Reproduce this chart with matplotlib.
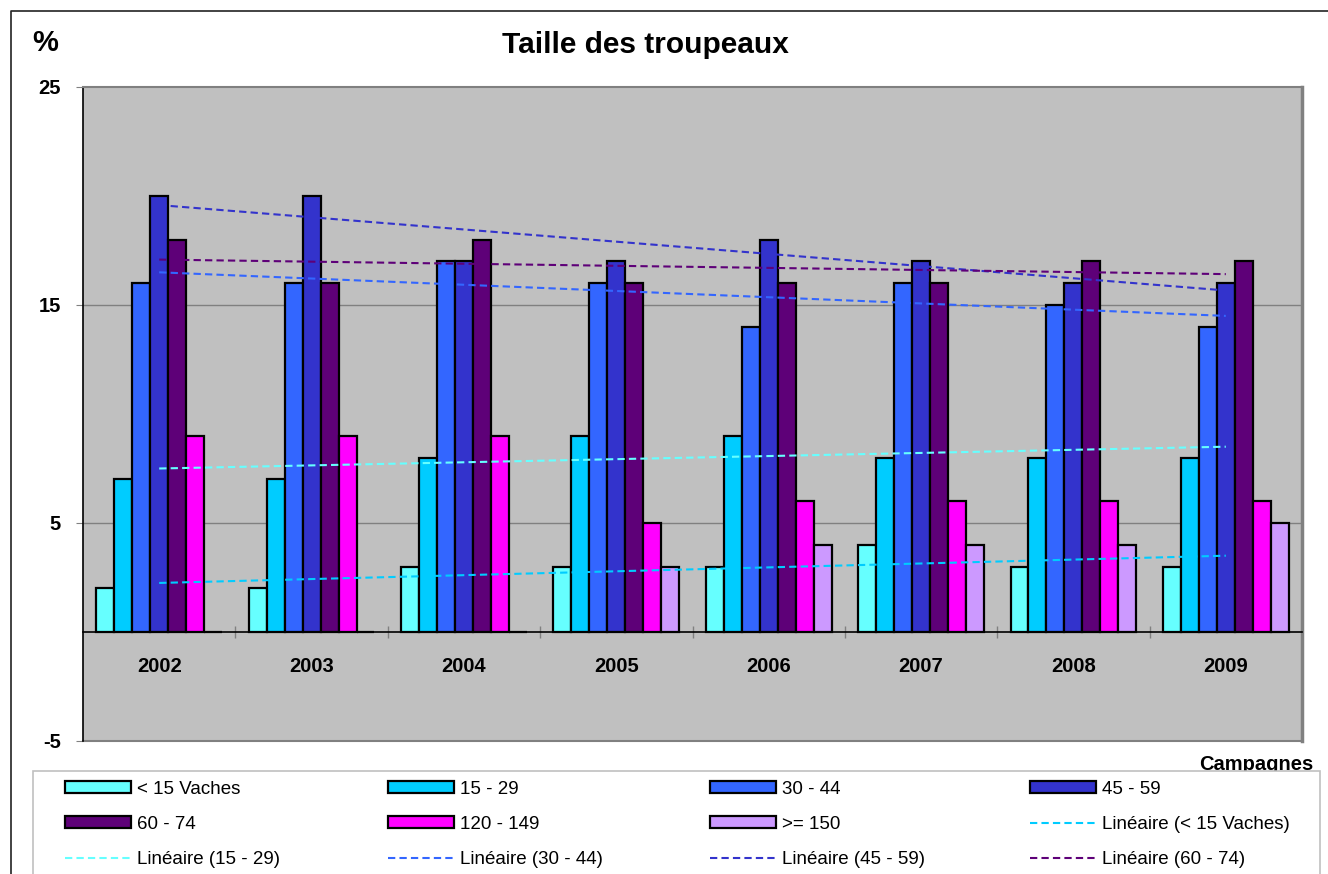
import numpy as np
import matplotlib.pyplot as plt
from matplotlib.patches import Patch, Rectangle
from matplotlib.lines import Line2D

plt.rcParams["font.family"] = ["Liberation Sans", "DejaVu Sans"]
plt.rcParams["axes.unicode_minus"] = False

YEARS = ["2002", "2003", "2004", "2005", "2006", "2007", "2008", "2009"]
SERIES = ["< 15 Vaches", "15 - 29", "30 - 44", "45 - 59", "60 - 74", "120 - 149", ">= 150"]
LT15 = [2, 2, 3, 3, 3, 4, 3, 3]
S15_29 = [7, 7, 8, 9, 9, 8, 8, 8]
S30_44 = [16, 16, 17, 16, 14, 16, 15, 14]
S45_59 = [20, 20, 17, 17, 18, 17, 16, 16]
S60_74 = [18, 16, 18, 16, 16, 16, 17, 17]
S120_149 = [9, 9, 9, 5, 6, 6, 6, 6]
GE150 = [0, 0, 0, 3, 4, 4, 4, 5]
VALUES = [LT15, S15_29, S30_44, S45_59, S60_74, S120_149, GE150]

BAR_COLORS = ["#66FFFF", "#00CCFF", "#3366FF", "#3333CC", "#5E0078", "#FF00FF", "#CC99FF"]
# trend lines for the first five series (Excel "Linéaire")
TREND_COLORS = ["#00CCFF", "#66FFFF", "#3366FF", "#3333CC", "#5E0078"]

W, H = 1328, 874
fig = plt.figure(figsize=(W / 100, H / 100), dpi=100)
ax = fig.add_axes([83 / W, 1 - 741 / H, (1302 - 83) / W, (741 - 87) / H])
ax.set_facecolor("#C0C0C0")

x = np.arange(1, len(YEARS) + 1)
bw = 0.118
bar_handles = []
for i, (name, vals, col) in enumerate(zip(SERIES, VALUES, BAR_COLORS)):
    ax.bar(x + (i - 3) * bw, vals, bw, color=col, edgecolor="black",
           linewidth=1.6, zorder=3)
    bar_handles.append(Patch(facecolor=col, edgecolor="black", linewidth=1.6, label=name))

trend_handles = []
for i in range(5):
    k, b = np.polyfit(x, VALUES[i], 1)
    ax.plot([x[0], x[-1]], [k * x[0] + b, k * x[-1] + b], color=TREND_COLORS[i],
            linestyle=(0, (3.5, 2)), linewidth=1.5, zorder=4)
    trend_handles.append(Line2D([], [], color=TREND_COLORS[i], linestyle=(0, (3.5, 2)),
                                linewidth=1.5, label=f"Linéaire ({SERIES[i]})"))

ax.set_xlim(0.5, len(YEARS) + 0.5)
ax.set_ylim(-5, 25)
ax.set_yticks([-5, 5, 15, 25])
for yv in [5, 15]:
    ax.axhline(yv, color="#808080", linewidth=1, zorder=1)
ax.axhline(-5, color="#808080", linewidth=1.5, zorder=1, clip_on=False)

ax.spines["bottom"].set_position(("data", 0))
ax.spines["bottom"].set_color("black")
ax.spines["bottom"].set_linewidth(1.2)
ax.spines["bottom"].set_zorder(5)
ax.spines["left"].set_color("black")
ax.spines["left"].set_linewidth(1.2)
ax.spines["top"].set_color("#808080")
ax.spines["top"].set_linewidth(1.5)
ax.spines["right"].set_color("#808080")
ax.spines["right"].set_linewidth(2.5)

ax.set_xticks(x)
ax.set_xticklabels(YEARS, fontsize=14.5, fontweight="bold")
ax.set_xticks(np.arange(1.5, len(YEARS)), minor=True)
ax.tick_params(axis="x", which="major", length=0, pad=18)
ax.tick_params(axis="x", which="minor", length=8, direction="inout", color="#808080", width=1)
ax.tick_params(axis="y", length=5, color="#808080", pad=11)
for lab in ax.get_yticklabels():
    lab.set_fontsize(14.5)
    lab.set_fontweight("bold")

fig.text(45 / W, 1 - 43 / H, "%", fontsize=21, fontweight="bold", ha="center", va="center")
fig.text(645 / W, 1 - 45 / H, "Taille des troupeaux", fontsize=21.5, fontweight="bold",
         ha="center", va="center")
fig.text(1313 / W, 1 - 765 / H, "Campagnes", fontsize=14.5, fontweight="bold",
         ha="right", va="center", zorder=1)

# outer chart border (top and left visible)
fig.add_artist(Line2D([11 / W, 11 / W, 1.0], [0.0, 1 - 11 / H, 1 - 11 / H],
                      transform=fig.transFigure, color="#222222", linewidth=1.2))

# legend box, runs off the bottom of the picture and covers the foot of "Campagnes"
fig.add_artist(Rectangle((33 / W, -0.05), (1320 - 33) / W, 0.05 + 1 - 771 / H,
                         transform=fig.transFigure, facecolor="white",
                         edgecolor="#C0C0C0", linewidth=1.2, zorder=4))

# one legend per column, in Excel row order
rows = [bar_handles[0:4], bar_handles[4:7] + [trend_handles[0]], trend_handles[1:5]]
col_x = [65, 388, 710, 1030]
for c in range(4):
    leg = fig.legend(handles=[rows[r][c] for r in range(3)], loc="upper left",
                     bbox_to_anchor=(col_x[c] / W, 1 - 781 / H), fontsize=13.5,
                     frameon=False, handlelength=3.5, handleheight=0.6,
                     handletextpad=0.35, labelspacing=0.96, borderpad=0,
                     borderaxespad=0)
    leg.set_zorder(5)

fig.savefig("out.png", dpi=100)
